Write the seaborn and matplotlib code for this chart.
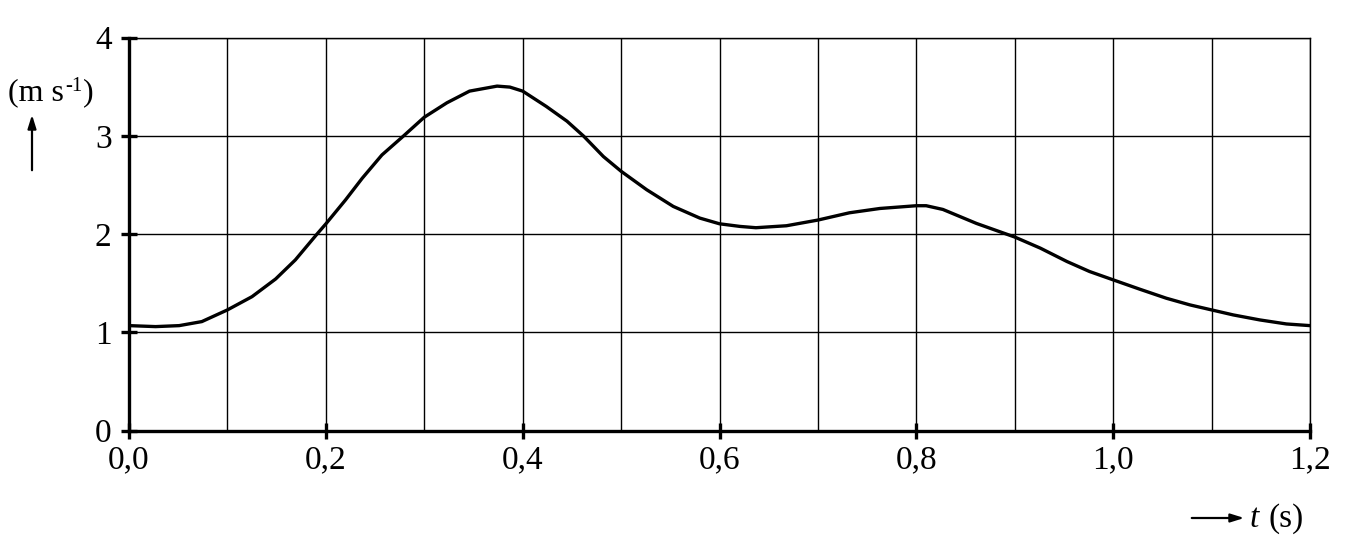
import matplotlib
matplotlib.use("Agg")
import matplotlib.pyplot as plt
import matplotlib.patches as mpatches
import seaborn as sns
import pandas as pd

# data
t_values = [0.000, 0.027, 0.051, 0.074, 0.100, 0.125, 0.149, 0.169, 0.191, 0.200,
            0.220, 0.237, 0.257, 0.279, 0.300, 0.323, 0.346, 0.374, 0.387, 0.400,
            0.424, 0.445, 0.462, 0.482, 0.500, 0.526, 0.553, 0.580, 0.600, 0.621,
            0.637, 0.668, 0.700, 0.732, 0.763, 0.800, 0.810, 0.827, 0.861, 0.900,
            0.926, 0.953, 0.976, 1.000, 1.027, 1.054, 1.078, 1.100, 1.122, 1.149,
            1.176, 1.200]
v_values = [1.068, 1.058, 1.068, 1.109, 1.228, 1.363, 1.543, 1.737, 2.000, 2.104,
            2.348, 2.569, 2.806, 3.000, 3.190, 3.337, 3.456, 3.507, 3.497, 3.456,
            3.300, 3.150, 2.997, 2.790, 2.640, 2.452, 2.282, 2.163, 2.105, 2.078,
            2.065, 2.085, 2.143, 2.217, 2.261, 2.289, 2.289, 2.251, 2.109, 1.970,
            1.857, 1.721, 1.619, 1.534, 1.439, 1.347, 1.279, 1.228, 1.177, 1.126,
            1.085, 1.068]
x_ticks = [0.0, 0.2, 0.4, 0.6, 0.8, 1.0, 1.2]
x_tick_labels = ["0,0", "0,2", "0,4", "0,6", "0,8", "1,0", "1,2"]
x_grid = [0.1 * i for i in range(13)]
y_ticks = [0, 1, 2, 3, 4]
y_tick_labels = ["0", "1", "2", "3", "4"]

sns.set_theme(style="white")
plt.rcParams["font.family"] = ["Liberation Serif", "DejaVu Serif"]

df = pd.DataFrame({"t": t_values, "v": v_values})

W, H = 1356, 558
fig = plt.figure(figsize=(W / 100, H / 100), dpi=100)
ax = fig.add_axes([129 / W, 1 - 430.5 / H, (1310 - 129) / W, (430.5 - 37.7) / H])

# grid
for g in x_grid:
    ax.axvline(g, color="black", lw=1.0, zorder=1)
for g in y_ticks:
    ax.axhline(g, color="black", lw=1.0, zorder=1)

sns.lineplot(data=df, x="t", y="v", ax=ax, color="black", lw=2.4, zorder=3,
             solid_joinstyle="round", solid_capstyle="round")

ax.set_xlim(0, 1.2)
ax.set_ylim(0, 4)
ax.set_xticks(x_ticks)
ax.set_xticklabels(x_tick_labels)
ax.set_yticks(y_ticks)
ax.set_yticklabels(y_tick_labels)
ax.tick_params(axis="both", which="major", bottom=True, left=True, top=False, right=False,
               direction="inout", length=11, width=2.4, color="black",
               labelsize=24, labelcolor="black")
ax.tick_params(axis="y", pad=7)
ax.tick_params(axis="x", pad=5)
ax.set_xlabel("")
ax.set_ylabel("")

for s in ["left", "bottom"]:
    ax.spines[s].set_linewidth(2.4)
    ax.spines[s].set_color("black")
for s in ["top", "right"]:
    ax.spines[s].set_linewidth(1.0)
    ax.spines[s].set_color("black")

# y-axis unit label "(m s-1)" with small raised "-1"
renderer = fig.canvas.get_renderer()
t1 = fig.text(8 / W, 1 - 100 / H, "(m s", fontsize=23, ha="left", va="baseline", color="black")
bb = t1.get_window_extent(renderer)
t2 = fig.text(bb.x1 / W + 1 / W, 1 - 91 / H, "-1", fontsize=15, ha="left", va="baseline",
              color="black")
bb2 = t2.get_window_extent(renderer)
fig.text(bb2.x1 / W + 1 / W, 1 - 100 / H, ")", fontsize=23, ha="left", va="baseline",
         color="black")

fig.patches.append(mpatches.FancyArrowPatch(
    (32 / W, 1 - 173 / H), (32 / W, 1 - 112 / H), transform=fig.transFigure,
    arrowstyle="-|>,head_length=8,head_width=2.5", color="black", lw=1.6, mutation_scale=1))

# x-axis label with right arrow
fig.patches.append(mpatches.FancyArrowPatch(
    (1189 / W, 1 - 518 / H), (1247 / W, 1 - 518 / H), transform=fig.transFigure,
    arrowstyle="-|>,head_length=8,head_width=2.5", color="black", lw=1.6, mutation_scale=1))
fig.text(1250 / W, 1 - 527 / H, "t", fontsize=24, style="italic", ha="left", va="baseline",
         color="black")
fig.text(1268 / W, 1 - 527 / H, "(s)", fontsize=24, ha="left", va="baseline", color="black")

fig.savefig("out.png", dpi=100, facecolor="white")
